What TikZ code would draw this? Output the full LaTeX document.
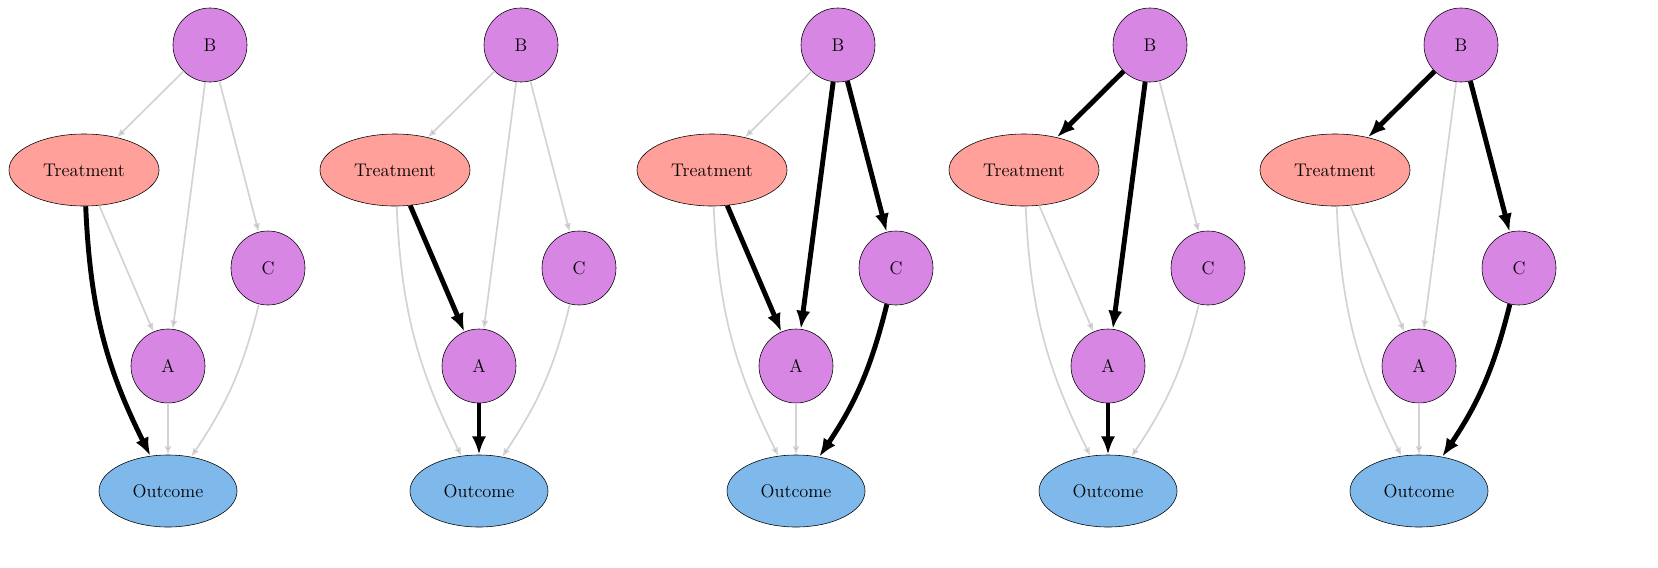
\documentclass[tikz,border=0pt]{standalone}
\usetikzlibrary{arrows.meta,shapes.geometric}
\definecolor{varpurple}{HTML}{D787E3}
\definecolor{treatred}{HTML}{FFA09A}
\definecolor{outblue}{HTML}{7FB8EA}
\definecolor{edgegray}{HTML}{D3D3D3}
\tikzset{
  var/.style={circle, draw, fill=varpurple, minimum size=1.85cm, inner sep=0pt},
  treat/.style={ellipse, draw, fill=treatred, minimum width=3.75cm, minimum height=1.8cm},
  outc/.style={ellipse, draw, fill=outblue, minimum width=3.45cm, minimum height=1.8cm},
  weak/.style={draw=edgegray, line width=1.2pt, -{Latex[length=6pt,width=5pt,fill=black!70]}},
  strong/.style={draw=black, line width=3.5pt, -{Latex[length=13pt,width=10pt]}},
}
% one panel: #1 suffix, #2 x offset, then styles of B-T, B-A, B-C, T-A, T-O, A-O, C-O
\newcommand{\drawpanel}[9]{%
  \node[var] (B#1) at (210+#2,45) {B};%
  \node[treat] (T#1) at (84+#2,170) {Treatment};%
  \node[var] (C#1) at (268+#2,268) {C};%
  \node[var] (A#1) at (168+#2,366) {A};%
  \node[outc] (O#1) at (168+#2,491) {Outcome};%
  \draw[#3] (B#1) -- (T#1);%
  \draw[#4] (B#1) -- (A#1);%
  \draw[#5] (B#1) -- (C#1);%
  \draw[#6] (T#1) -- (A#1);%
  \draw[#7] (T#1) to[bend right=12] (O#1);%
  \draw[#8] (A#1) -- (O#1);%
  \draw[#9] (C#1) to[bend left=10] (O#1);%
}
\begin{document}
\begin{tikzpicture}[x=0.025cm, y=-0.025cm, font=\fontsize{13}{15}\selectfont]
  \path[use as bounding box, clip] (0,0) rectangle (1658,567);
  % the five panels
  \drawpanel{1}{0}{weak}{weak}{weak}{weak}{strong}{weak}{weak}
  \drawpanel{2}{311}{weak}{weak}{weak}{strong}{weak}{strong}{weak}
  \drawpanel{3}{628}{weak}{strong}{strong}{strong}{weak}{weak}{strong}
  \drawpanel{4}{940}{strong}{strong}{weak}{weak}{weak}{strong}{weak}
  \drawpanel{5}{1251}{strong}{weak}{strong}{weak}{weak}{weak}{strong}
\end{tikzpicture}
\end{document}
